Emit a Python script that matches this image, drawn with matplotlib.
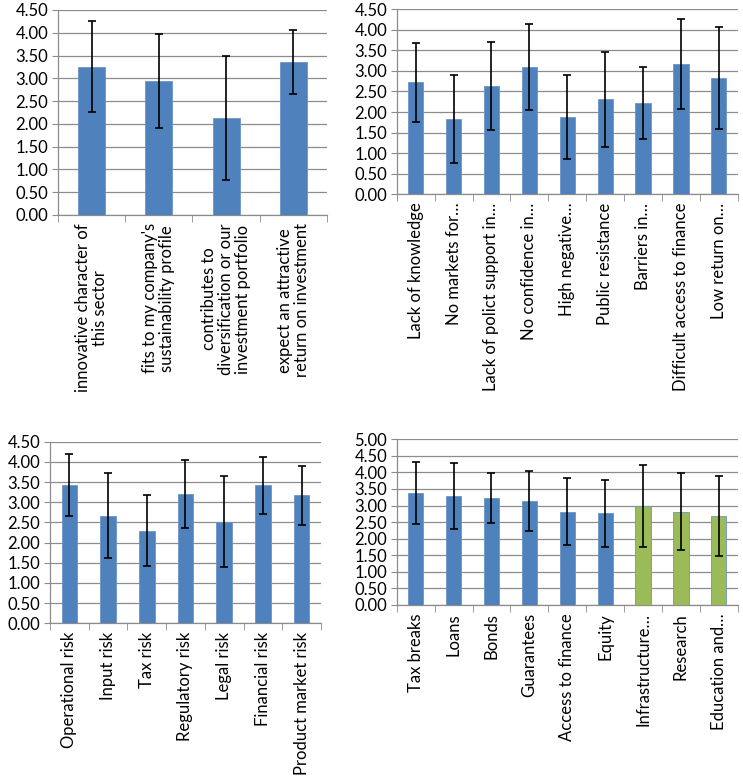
import numpy as np
import matplotlib.pyplot as plt
from matplotlib.ticker import MultipleLocator, FormatStrFormatter

plt.rcParams['font.family'] = ['Lato', 'DejaVu Sans']

BLUE = '#4F81BD'
GREEN = '#9BBB59'
GRID = '#8C8C8C'

# ---- panel 1: motives
motive_labels = ["innovative character of\nthis sector",
                 "fits to my company's\nsustainability profile",
                 "contributes to\ndiversification or our\ninvestment portfolio",
                 "expect an attractive\nreturn on investment"]
motive_mean = [3.25, 2.94, 2.12, 3.36]
motive_sd = [1.00, 1.03, 1.36, 0.71]

# ---- panel 2: barriers
barrier_labels = ["Lack of knowledge", "No markets for\u2026",
                  "Lack of polict support in\u2026", "No confidence in\u2026",
                  "High negative\u2026", "Public resistance", "Barriers in\u2026",
                  "Difficult access to finance", "Low return on\u2026"]
barrier_mean = [2.72, 1.83, 2.63, 3.10, 1.88, 2.31, 2.22, 3.17, 2.82]
barrier_sd = [0.96, 1.07, 1.07, 1.05, 1.03, 1.16, 0.87, 1.10, 1.24]

# ---- panel 3: risks
risk_labels = ["Operational risk", "Input risk", "Tax risk", "Regulatory risk",
               "Legal risk", "Financial risk", "Product market risk"]
risk_mean = [3.42, 2.67, 2.30, 3.21, 2.52, 3.42, 3.17]
risk_sd = [0.77, 1.05, 0.88, 0.85, 1.13, 0.70, 0.74]

# ---- panel 4: instruments
instr_labels = ["Tax breaks", "Loans", "Bonds", "Guarantees", "Access to finance",
                "Equity", "Infrastructure\u2026", "Research", "Education and\u2026"]
instr_mean = [3.37, 3.28, 3.22, 3.14, 2.82, 2.76, 2.99, 2.82, 2.69]
instr_sd = [0.93, 0.99, 0.76, 0.90, 1.01, 1.00, 1.24, 1.15, 1.21]
instr_colors = [BLUE] * 6 + [GREEN] * 3


def bar_panel(ax, labels, means, sds, ymax, colors=None):
    x = np.arange(len(labels))
    if colors is None:
        colors = BLUE
    ax.bar(x, means, width=0.4, color=colors, edgecolor='#6D95C8', linewidth=0.6,
           zorder=3)
    ax.errorbar(x, means, yerr=sds, fmt='none', ecolor='black', elinewidth=1.2,
                capsize=3, capthick=1.2, zorder=4)
    ax.set_xlim(-0.5, len(labels) - 0.5)
    ax.set_ylim(0, ymax)
    ax.yaxis.set_major_locator(MultipleLocator(0.5))
    ax.yaxis.set_major_formatter(FormatStrFormatter('%.2f'))
    ax.grid(axis='y', color=GRID, linewidth=0.9, zorder=0)
    ax.set_xticks(x)
    ax.set_xticklabels(labels, rotation=90, ha='center', va='top',
                       multialignment='center', fontsize=12, linespacing=1.05)
    ax.set_xticks(np.arange(len(labels) + 1) - 0.5, minor=True)
    ax.tick_params(axis='x', which='major', length=0, pad=6)
    ax.tick_params(axis='x', which='minor', length=5, color=GRID, direction='out')
    ax.tick_params(axis='y', length=4, color=GRID, labelsize=12, pad=3)
    for s in ['top', 'right']:
        ax.spines[s].set_visible(False)
    for s in ['left', 'bottom']:
        ax.spines[s].set_color(GRID)
        ax.spines[s].set_linewidth(0.9)


fig = plt.figure(figsize=(7.43, 7.78), dpi=100)

ax1 = fig.add_axes([0.078, 0.7237, 0.362, 0.2635])
bar_panel(ax1, motive_labels, motive_mean, motive_sd, 4.5)

ax2 = fig.add_axes([0.534, 0.7503, 0.459, 0.2378])
bar_panel(ax2, barrier_labels, barrier_mean, barrier_sd, 4.5)

ax3 = fig.add_axes([0.0673, 0.1988, 0.3647, 0.2334])
bar_panel(ax3, risk_labels, risk_mean, risk_sd, 4.5)

ax4 = fig.add_axes([0.534, 0.2224, 0.459, 0.213])
bar_panel(ax4, instr_labels, instr_mean, instr_sd, 5.0, colors=instr_colors)

fig.savefig('out.png', dpi=100)
